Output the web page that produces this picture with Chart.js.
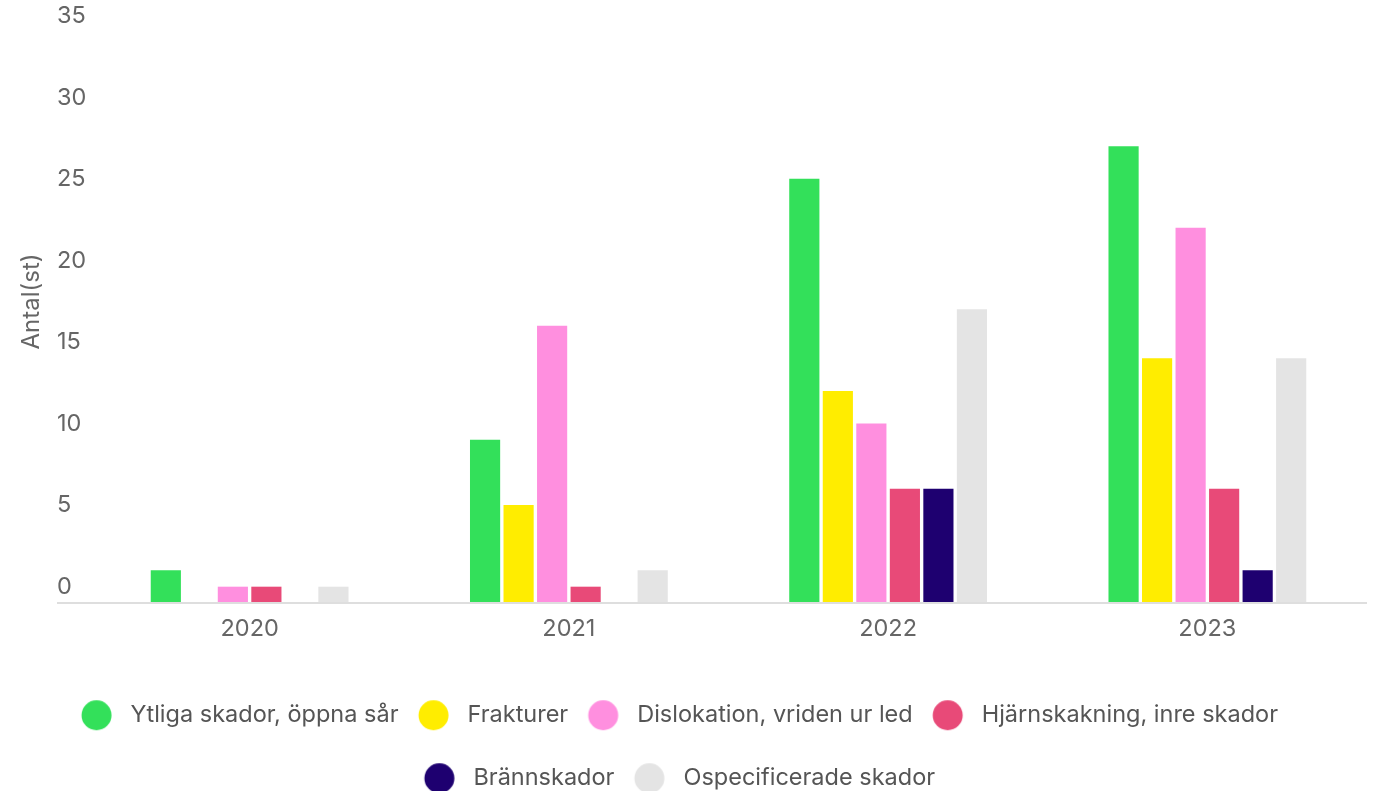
<!DOCTYPE html>
<html>
<head>
<meta charset="utf-8">
<script src="https://cdn.jsdelivr.net/npm/chart.js@4"></script>
<style>
  html, body { margin: 0; padding: 0; overflow: hidden; background: #fff; }
  #wrap { width: 1380px; height: 800px; }
</style>
</head>
<body>
<div id="wrap"><canvas id="chart"></canvas></div>
<script>
const years = ['2020', '2021', '2022', '2023'];
const seriesNames = [
  'Ytliga skador, öppna sår',
  'Frakturer',
  'Dislokation, vriden ur led',
  'Hjärnskakning, inre skador',
  'Brännskador',
  'Ospecificerade skador'
];
const ytliga = [2, 10, 26, 28];
const frakturer = [0, 6, 13, 15];
const dislokation = [1, 17, 11, 23];
const hjarnskakning = [1, 1, 7, 7];
const brannskador = [0, 0, 7, 2];
const ospecificerade = [1, 2, 18, 15];
const yTicks = [0, 5, 10, 15, 20, 25, 30, 35];

const colors = ['#33e05a', '#ffed00', '#ff8fdf', '#e84a78', '#1e0070', '#e4e4e4'];
const values = [ytliga, frakturer, dislokation, hjarnskakning, brannskador, ospecificerade];

// round legend markers, drawn off-centre so the gaps match the original
function dot(color) {
  const c = document.createElement('canvas');
  c.width = 60;
  c.height = 32;
  const g = c.getContext('2d');
  g.fillStyle = color;
  g.beginPath();
  g.arc(16.6, 16, 15, 0, Math.PI * 2);
  g.fill();
  return c;
}
const dots = colors.map(dot);

const baseline = {
  id: 'baseline',
  afterLayout(chart) {
    // nudge the y title up a little, like the original
    const s = chart.scales.yTitle;
    s.bottom -= 32;
  },
  afterDatasetsDraw(chart) {
    const { ctx, chartArea, scales } = chart;
    const y = scales.y.getPixelForValue(0);
    ctx.save();
    ctx.strokeStyle = '#dedede';
    ctx.lineWidth = 2;
    ctx.beginPath();
    ctx.moveTo(scales.y.left, y);
    ctx.lineTo(chartArea.right, y);
    ctx.stroke();
    ctx.restore();
  }
};

Chart.defaults.font.family = 'Inter, "Open Sans", sans-serif';
Chart.defaults.color = '#666';

new Chart(document.getElementById('chart'), {
  type: 'bar',
  data: {
    labels: years,
    datasets: seriesNames.map((name, i) => ({
      label: name,
      data: values[i],
      backgroundColor: colors[i],
      borderWidth: 0,
      categoryPercentage: 0.63,
      barPercentage: 0.9
    }))
  },
  options: {
    responsive: true,
    maintainAspectRatio: false,
    animation: false,
    layout: { padding: { left: 12, right: 13, top: 32, bottom: 0 } },
    scales: {
      x: {
        grid: { display: false, drawTicks: false },
        border: { display: false },
        ticks: { font: { size: 23.5 }, padding: 12, color: '#666' },
        afterFit(s) { s.height = 61; }
      },
      y: {
        min: 0,
        max: 35,
        weight: 0,
        grid: { display: false, drawTicks: false },
        border: { display: false },
        afterBuildTicks(s) { s.ticks = yTicks.map(v => ({ value: v })); },
        ticks: {
          font: { size: 23.5 },
          color: '#666',
          crossAlign: 'far',
          labelOffset: -16
        },
        afterFit(s) { s.width = 33; }
      },
      yTitle: {
        type: 'linear',
        position: 'left',
        weight: 1,
        grid: { display: false, drawTicks: false },
        border: { display: false },
        ticks: { display: false },
        title: {
          display: true,
          text: 'Antal(st)',
          font: { size: 24 },
          color: '#666',
          padding: { top: 5, bottom: 4 }
        },
        afterFit(s) { s.width = 45; }
      }
    },
    plugins: {
      tooltip: { enabled: false },
      legend: {
        position: 'bottom',
        labels: {
          usePointStyle: true,
          pointStyleWidth: 17.75,
          padding: 39.5,
          font: { size: 23.5 },
          color: '#555',
          generateLabels(chart) {
            const items = Chart.defaults.plugins.legend.labels.generateLabels(chart);
            items.forEach(it => { it.pointStyle = dots[it.datasetIndex]; });
            return items;
          }
        }
      }
    }
  },
  plugins: [baseline]
});
</script>
</body>
</html>
